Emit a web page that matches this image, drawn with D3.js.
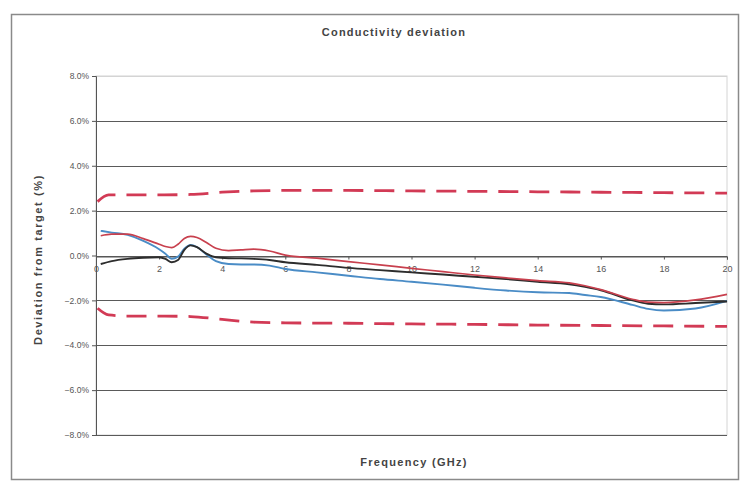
<!DOCTYPE html>
<html>
<head>
<meta charset="utf-8">
<script src="https://cdn.jsdelivr.net/npm/d3@7"></script>
<style>
  html, body { margin: 0; padding: 0; background: #fff; }
  svg { display: block; font-family: "Liberation Sans", Arial, sans-serif; }
</style>
</head>
<body>
<svg id="chart" width="744" height="487"></svg>
<script>
// ---- data ----
const title = "Conductivity deviation";
const xLabel = "Frequency (GHz)";
const yLabel = "Deviation from target (%)";
const xTicks = [0, 2, 4, 6, 8, 10, 12, 14, 16, 18, 20];
const yTicks = [-8, -6, -4, -2, 0, 2, 4, 6, 8];

const upperFreq = [0.05, 0.4, 1, 2, 3, 4, 5, 6, 8, 10, 12, 14, 16, 18, 20];
const upperLimit = [2.4, 2.7, 2.7, 2.7, 2.72, 2.82, 2.88, 2.9, 2.9, 2.88, 2.86, 2.84, 2.82, 2.8, 2.78];
const lowerFreq = [0.05, 0.4, 1, 2, 3, 4, 5, 6, 8, 10, 12, 14, 16, 18, 20];
const lowerLimit = [-2.35, -2.65, -2.7, -2.7, -2.72, -2.85, -2.97, -3.0, -3.02, -3.05, -3.07, -3.1, -3.12, -3.14, -3.16];

const freq  = [0.15, 0.5, 1, 1.5, 2, 2.2, 2.4, 2.6, 2.8, 3.0, 3.2, 3.5, 3.8, 4.2, 4.6, 5, 5.5, 6, 7, 8, 9, 10, 11, 12, 13, 14, 15, 15.5, 16, 17, 17.5, 18, 19, 20];
const blue  = [1.10, 1.02, 0.92, 0.65, 0.28, 0.08, -0.15, -0.05, 0.30, 0.47, 0.38, 0.05, -0.25, -0.38, -0.40, -0.40, -0.45, -0.60, -0.75, -0.90, -1.05, -1.17, -1.30, -1.44, -1.56, -1.64, -1.67, -1.76, -1.85, -2.20, -2.38, -2.45, -2.36, -2.02];
const red   = [0.88, 0.95, 0.95, 0.75, 0.50, 0.40, 0.35, 0.50, 0.76, 0.85, 0.80, 0.58, 0.32, 0.22, 0.25, 0.28, 0.20, 0.02, -0.12, -0.27, -0.42, -0.57, -0.72, -0.87, -1.00, -1.12, -1.22, -1.35, -1.52, -1.95, -2.08, -2.10, -1.98, -1.73];
const black = [-0.38, -0.25, -0.15, -0.10, -0.08, -0.15, -0.30, -0.20, 0.25, 0.45, 0.37, 0.08, -0.08, -0.12, -0.13, -0.15, -0.20, -0.30, -0.42, -0.55, -0.65, -0.75, -0.85, -0.95, -1.05, -1.17, -1.28, -1.40, -1.55, -2.00, -2.15, -2.18, -2.12, -2.05];

// ---- layout ----
const svg = d3.select("#chart");
const L = 96, R = 727, T = 76, B = 435;
const x = d3.scaleLinear().domain([0, 20]).range([L, R]);
const y = d3.scaleLinear().domain([-8, 8]).range([B, T]);

// outer frame
svg.append("rect").attr("x", 11.5).attr("y", 14.5).attr("width", 727).attr("height", 465)
  .attr("fill", "#fff").attr("stroke", "#8a8a8a").attr("stroke-width", 1.5);

// plot area border
svg.append("rect").attr("x", L).attr("y", T).attr("width", R - L).attr("height", B - T)
  .attr("fill", "none").attr("stroke", "#d4d4d4").attr("stroke-width", 1);

// gridlines
svg.append("g").selectAll("line").data(yTicks).join("line")
  .attr("x1", L).attr("x2", R)
  .attr("y1", d => Math.round(y(d)) + 0.5).attr("y2", d => Math.round(y(d)) + 0.5)
  .attr("stroke", d => d === 8 ? "#d4d4d4" : "#5a5a5a").attr("stroke-width", 1);

// y axis
const yAxis = d3.axisLeft(y).tickValues(yTicks).tickSize(4)
  .tickFormat(d => d3.format(".1f")(d) + "%");
const gy = svg.append("g").attr("transform", `translate(${L},0)`).call(yAxis);
gy.select(".domain").attr("stroke", "#555");
gy.selectAll(".tick line").attr("stroke", "#555");
gy.selectAll(".tick text").attr("fill", "#555").attr("font-size", 8.5).attr("x", -7);

// x axis at 0%
const xAxis = d3.axisBottom(x).tickValues(xTicks).tickSize(3).tickFormat(d3.format("d"));
const gx = svg.append("g").attr("transform", `translate(0,${Math.round(y(0)) + 0.5})`).call(xAxis);
gx.select(".domain").attr("stroke", "#555");
gx.selectAll(".tick line").attr("stroke", "#555");
gx.selectAll(".tick text").attr("fill", "#555").attr("font-size", 9).attr("y", 9);

// lines
const line = d3.line().curve(d3.curveMonotoneX);
function draw(xs, ys, color, width, dash) {
  const p = svg.append("path")
    .attr("d", line(xs.map((f, i) => [x(f), y(ys[i])])))
    .attr("fill", "none").attr("stroke", color).attr("stroke-width", width)
    .attr("stroke-linejoin", "round");
  if (dash) p.attr("stroke-dasharray", dash);
}
draw(upperFreq, upperLimit, "#d23a55", 2.8, "20,11");
draw(lowerFreq, lowerLimit, "#d23a55", 2.8, "20,11");
draw(freq, blue, "#4a8cc6", 1.9);
draw(freq, black, "#2d2d2d", 1.9);
draw(freq, red, "#c8404e", 1.7);

// titles
svg.append("text").attr("x", 394).attr("y", 36).attr("text-anchor", "middle")
  .attr("font-size", 11).attr("font-weight", "bold").attr("letter-spacing", 1.2)
  .attr("fill", "#444").text(title);
svg.append("text").attr("x", 414).attr("y", 466).attr("text-anchor", "middle")
  .attr("font-size", 11).attr("font-weight", "bold").attr("letter-spacing", 1.3)
  .attr("fill", "#444").text(xLabel);
svg.append("text").attr("transform", `translate(42,${(T + B) / 2 + 4}) rotate(-90)`)
  .attr("text-anchor", "middle")
  .attr("font-size", 11).attr("font-weight", "bold").attr("letter-spacing", 1.6)
  .attr("fill", "#444").text(yLabel);
</script>
</body>
</html>
